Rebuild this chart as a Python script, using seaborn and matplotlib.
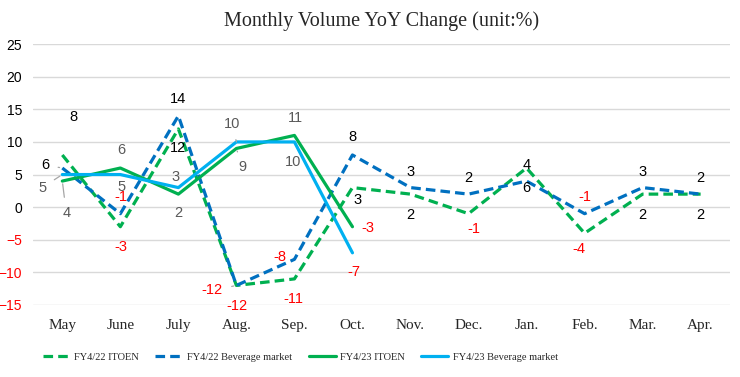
import seaborn as sns
import matplotlib.pyplot as plt
import pandas as pd

months = ['May', 'June', 'July', 'Aug.', 'Sep.', 'Oct.', 'Nov.', 'Dec.', 'Jan.', 'Feb.', 'Mar.', 'Apr.']
itoen_22 = [8, -3, 12, -12, -11, 3, 2, -1, 6, -4, 2, 2]
market_22 = [6, -1, 14, -12, -8, 8, 3, 2, 4, -1, 3, 2]
itoen_23 = [4, 6, 2, 9, 11, -3]
market_23 = [5, 5, 3, 10, 10, -7]

# label offsets in pixels (dx, dy) and whether a leader line is drawn
off_itoen_22 = [(11, 38), (1, -20), (0, -19), (1, -21), (-1, -20), (5, -12),
                (0, -21), (5, -15), (0, -20), (-6, -16), (0, -21), (0, -21)]
off_market_22 = [(-17, 3), (1, 17), (0, 17), (-24, -5), (-15, 2), (0, 18),
                 (0, 16), (0, 16), (0, 16), (0, 17), (0, 16), (0, 16)]
off_itoen_23 = [(4, -32), (1, 18), (0, -19), (6, -19), (1, 17), (15, -1)]
off_market_23 = [(-20, -13), (1, -12), (-3, 11), (-4, 18), (-1, -20), (1, -19)]
leader_lines = {('m22', 0), ('m23', 0), ('i23', 0), ('m23', 3), ('i23', 3), ('m22', 3)}

sns.set_theme(style='white')

fig, ax = plt.subplots(figsize=(7.4, 3.77), dpi=100)
fig.subplots_adjust(left=0.045, right=0.986, bottom=0.191, top=0.883)

series = [
    ('FY4/22 ITOEN', itoen_22, '#00B050', (3, 1.6), off_itoen_22, 'i22', 'black'),
    ('FY4/22 Beverage market', market_22, '#0070C0', (3, 1.6), off_market_22, 'm22', 'black'),
    ('FY4/23 ITOEN', itoen_23, '#00B050', None, off_itoen_23, 'i23', '#595959'),
    ('FY4/23 Beverage market', market_23, '#00B0F0', None, off_market_23, 'm23', '#595959'),
]

for name, vals, color, dash, offs, key, tcol in series:
    df = pd.DataFrame({'month': months[:len(vals)], 'value': vals})
    sns.lineplot(data=df, x='month', y='value', ax=ax, color=color, lw=2.3,
                 sort=False, label=name)
    ln = ax.get_lines()[-1]
    if dash:
        ln.set_dashes(dash)
    for i, v in enumerate(vals):
        dx, dy = offs[i]
        c = 'red' if v < 0 else tcol
        arrow = None
        if (key, i) in leader_lines:
            arrow = dict(arrowstyle='-', color='#A6A6A6', lw=0.9, shrinkA=4, shrinkB=2)
        ax.annotate(str(v), (i, v), xytext=(dx, dy), textcoords='offset pixels',
                    ha='center', va='center', color=c, fontsize=10.5,
                    family='Liberation Sans', arrowprops=arrow)

ax.set_xlim(-0.5, 11.5)
ax.set_ylim(-15, 25)
ax.set_yticks(range(-15, 26, 5))
ax.grid(axis='y', color='#D9D9D9', lw=1)
ax.grid(axis='x', visible=False)
sns.despine(ax=ax, left=True, bottom=True)
ax.set_xlabel('')
ax.set_ylabel('')
ax.tick_params(axis='both', length=0)
ax.tick_params(axis='y', pad=8)
for t in ax.get_yticklabels():
    t.set_family('Liberation Sans')
    t.set_fontsize(10)
    t.set_color('red' if t.get_text().startswith(('-', '\u2212')) else 'black')
for t in ax.get_xticklabels():
    t.set_family('Liberation Serif')
    t.set_fontsize(11)
ax.tick_params(axis='x', pad=10)

ax.set_title('Monthly Volume YoY Change (unit:%)', family='Liberation Serif',
             fontsize=14.5, pad=13)

handles, labels = ax.get_legend_handles_labels()
ax.get_legend().remove()
fig.legend(handles, labels, loc='center left', bbox_to_anchor=(0.045, 0.053), ncol=4,
           frameon=False, prop={'family': 'Liberation Serif', 'size': 7.5},
           handlelength=2.6, handletextpad=0.4, columnspacing=1.6)

fig.savefig('out.png', dpi=100)
